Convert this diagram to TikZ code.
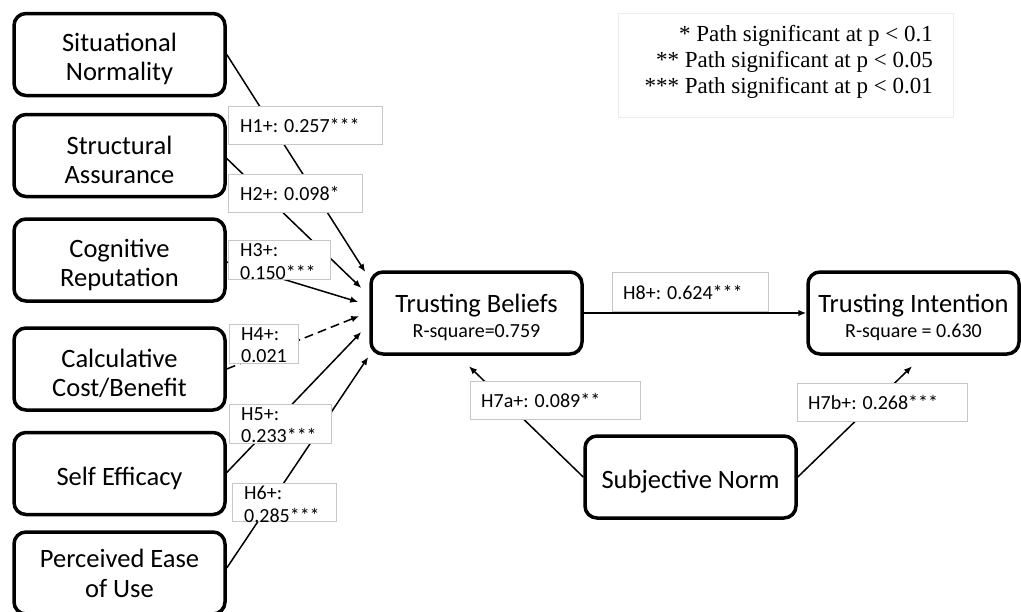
\documentclass[tikz,border=0pt]{standalone}
\usepackage{fontspec}
\setmainfont{Carlito}
\newfontfamily\legendfont{Liberation Serif}
\usetikzlibrary{arrows.meta,calc}
\newcommand{\dn}[1]{\raisebox{-4.5pt}[\height][\depth]{#1}}
\begin{document}
\begin{tikzpicture}[x=1pt,y=-1pt,
  construct/.style={draw=black, line width=3.5pt, rounded corners=12pt,
    minimum width=211pt, minimum height=82pt, align=center, inner sep=2pt,
    fill=white, font=\fontsize{26.5}{29}\selectfont},
  twoline/.style={font=\fontsize{26.5}{25}\selectfont},
  conn/.style={line width=1.5pt, -{Latex[length=8pt,width=6.5pt]}},
  lblbox/.style={draw=gray!45, line width=1.2pt, fill=white, inner sep=0pt, anchor=north west},
  lbltext/.style={font=\fontsize{20}{22.5}\selectfont, align=left, inner sep=0pt}
]
\useasboundingbox (0,0) rectangle (1021,611);

% constructs
\node[construct] (sn1) at (119.5,54.5) {\dn{Situational}\\\dn{Normality}};
\node[construct] (sa) at (119.5,155.5) {\dn{Structural}\\\dn{Assurance}};
\node[construct] (cr) at (119.5,260) {\dn{Cognitive}\\\dn{Reputation}};
\node[construct] (ccb) at (119.5,369) {\dn{Calculative}\\\dn{Cost/Benefit}};
\node[construct] (se) at (119.5,473.5) {\dn{Self Efficacy}};
\node[construct, font=\fontsize{26.5}{30}\selectfont] (peu) at (119.5,573) {Perceived Ease\\of Use};
\node[construct, twoline] (tb) at (476.5,313) {\dn{Trusting Beliefs}\\\dn{\fontsize{20}{25}\selectfont R-square=0.759}};
\node[construct, twoline] (ti) at (913.5,313) {\dn{Trusting Intention}\\\dn{\fontsize{20}{25}\selectfont R-square = 0.630}};
\node[construct] (sn) at (690.5,477) {\dn{Subjective Norm}};

% connectors
\draw[conn] (sn1.east) -- ($(tb.west)+(-4,-41)$);
\draw[conn] ($(sa.east)+(0,3)$) -- ($(tb.west)+(-8,-25)$);
\draw[conn] ($(cr.east)+(0,2)$) -- ($(tb.west)+(-11,-11)$);
\draw[conn, dash pattern=on 9pt off 5pt] (ccb.east) -- ($(tb.west)+(-10,3)$);
\draw[conn] ($(se.east)+(0,-1)$) -- ($(tb.west)+(-8,19)$);
\draw[conn] ($(peu.east)+(0,-5)$) -- ($(tb.west)+(-1,44)$);
\draw[conn] (tb.east) -- (ti.west);
\draw[conn] (sn.west) -- ($(tb.south)+(-7.5,10.5)$);
\draw[conn] (sn.east) -- ($(ti.south)+(-1.5,10.5)$);

% path labels
\node[lblbox, minimum width=154, minimum height=38] (l1) at (228,106) {};
\node[lbltext, anchor=west] (t1) at ($(l1.west)+(12,0)$) {H1+: 0.257***};
\node[lblbox, minimum width=134, minimum height=38] (l2) at (228,174) {};
\node[lbltext, anchor=west] (t2) at ($(l2.west)+(12,0)$) {H2+: 0.098*};
\node[lblbox, minimum width=102, minimum height=39] (l3) at (228,240) {};
\node[lbltext, anchor=north west] (t3) at ($(l3.north west)+(12,3.5)$) {H3+:\\0.150***};
\node[lblbox, minimum width=69, minimum height=39] (l4) at (229,324) {};
\node[lbltext, anchor=north west] (t4) at ($(l4.north west)+(12,3)$) {H4+:\\0.021};
\node[lblbox, minimum width=102, minimum height=39] (l5) at (229,404) {};
\node[lbltext, anchor=north west] (t5) at ($(l5.north west)+(12,3)$) {H5+:\\0.233***};
\node[lblbox, minimum width=104, minimum height=38] (l6) at (232,483) {};
\node[lbltext, anchor=north west] (t6) at ($(l6.north west)+(12,3)$) {H6+:\\0.285***};
\node[lblbox, minimum width=156, minimum height=39] (l8) at (612,272) {};
\node[lbltext, anchor=west] (t8) at ($(l8.west)+(11,0)$) {H8+: 0.624***};
\node[lblbox, minimum width=170, minimum height=38] (l7a) at (470,381) {};
\node[lbltext, anchor=west] (t7a) at ($(l7a.west)+(11,0)$) {H7a+: 0.089**};
\node[lblbox, minimum width=170, minimum height=38] (l7b) at (797,383) {};
\node[lbltext, anchor=west] (t7b) at ($(l7b.west)+(11,0)$) {H7b+: 0.268***};

% legend
\node[draw=gray!15, line width=1pt, minimum width=335, minimum height=104, anchor=north west, inner sep=0pt] (legbox) at (618,13) {};
\node[font=\legendfont\fontsize{23}{26}\selectfont, align=right, anchor=east, inner sep=0pt] (legtext) at (933,62)
  {* Path significant at p < 0.1\\** Path significant at p < 0.05\\*** Path significant at p < 0.01};
\end{tikzpicture}
\end{document}
